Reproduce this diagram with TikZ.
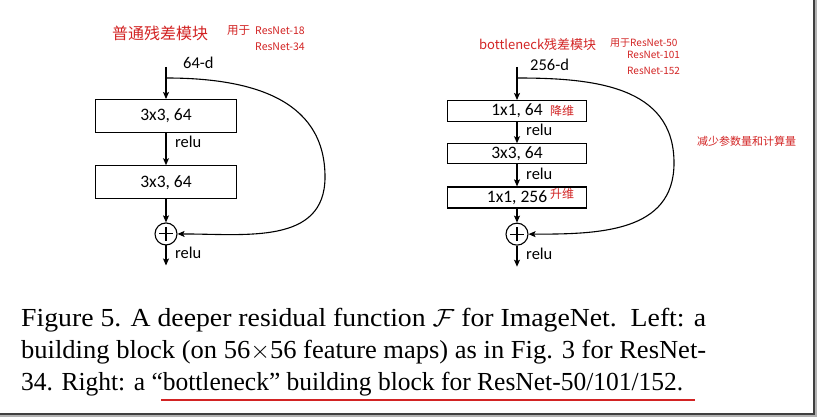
\documentclass[tikz,border=0pt]{standalone}
\usepackage{fontspec}
\usepackage{amsmath,amssymb}
\usepackage{xcolor}
\usepackage{graphicx}
\setmainfont{Liberation Serif}
\newfontfamily\cuerpo{Carlito}
\newfontfamily\mano{Noto Sans CJK SC}
\usetikzlibrary{arrows.meta,positioning,calc}
\definecolor{rojo}{RGB}{210,35,35}
\tikzset{
  bloque/.style={rectangle, draw=black, line width=1.2pt, fill=white,
                 minimum width=141pt, minimum height=33pt, inner sep=0pt,
                 align=center, font=\cuerpo\fontsize{17.5}{19}\selectfont},
  suma/.style={circle, draw=black, line width=1.1pt, minimum size=22pt,
               inner sep=0pt,
               path picture={\draw[line width=1.1pt]
                 ([yshift=-4pt]path picture bounding box.north) --
                 ([yshift=4pt]path picture bounding box.south)
                 ([xshift=4pt]path picture bounding box.west) --
                 ([xshift=-4pt]path picture bounding box.east);}},
  flecha/.style={-{Stealth[length=7pt, width=6pt, inset=1.5pt]}, line width=1.1pt},
  etiq/.style={anchor=west, inner sep=0pt, font=\cuerpo\fontsize{16.5}{18}\selectfont},
  nota/.style={anchor=west, inner sep=0pt, text=rojo},
  leyenda/.style={anchor=base west, inner sep=0pt,
                  font=\fontsize{26}{30}\selectfont}
}

\begin{document}
\begin{tikzpicture}[x=1pt, y=1pt]
  \useasboundingbox (0,0) rectangle (818,-419);
  % marco con sombra
  \draw[line width=2pt, black!30] (0,-416) -- (816,-416) -- (816,0);
  \draw[line width=1.6pt, black!75] (0,-414) -- (814,-414) -- (814,0);

  % bloque basico (izquierda)
  \coordinate (lin) at (166,-67);
  \coordinate[below=11pt of lin] (lskip);
  \node[bloque, below=32pt of lin] (l1) {3x3, 64};
  \node[bloque, below=32pt of l1] (l2) {3x3, 64};
  \node[suma, below=23pt of l2] (lsum) {};
  \coordinate[below=20pt of lsum] (lout);
  \coordinate (lturn) at (325,-177);
  \draw[line width=1.1pt] (lin) -- (lskip);
  \draw[flecha] (lskip) -- (l1);
  \draw[flecha] (l1) -- (l2);
  \draw[flecha] (l2) -- (lsum);
  \draw[flecha] (lsum) -- (lout);
  \draw[flecha] (lskip) to[out=0, in=90, looseness=1.1] (lturn)
                to[out=-90, in=0, looseness=1.1] (lsum);
  \node[etiq] (ld) at ($(lin)+(17,4)$) {64-d};
  \node[etiq] (lr1) at ($(l1.south)+(9,-9)$) {relu};
  \node[etiq] (lr2) at ($(lsum.south)+(9,-7)$) {relu};

  % bloque bottleneck (derecha)
  \coordinate (rin) at (517,-67);
  \coordinate[below=11pt of rin] (rskip);
  \node[bloque, minimum width=139pt, minimum height=21pt, below=33pt of rin] (r1) {1x1, 64};
  \node[bloque, minimum width=139pt, minimum height=20pt, below=21pt of r1] (r2) {3x3, 64};
  \node[bloque, minimum width=139pt, minimum height=21pt, below=22pt of r2] (r3) {1x1, 256};
  \node[suma, below=14pt of r3] (rsum) {};
  \coordinate[below=21pt of rsum] (rout);
  \coordinate (rturn) at (674,-163);
  \draw[line width=1.1pt] (rin) -- (rskip);
  \draw[flecha] (rskip) -- (r1);
  \draw[flecha] (r1) -- (r2);
  \draw[flecha] (r2) -- (r3);
  \draw[flecha] (r3) -- (rsum);
  \draw[flecha] (rsum) -- (rout);
  \draw[flecha] (rskip) to[out=0, in=90, looseness=1.1] (rturn)
                to[out=-90, in=0, looseness=1.1] (rsum);
  \node[etiq] (rd) at ($(rin)+(13,2)$) {256-d};
  \node[etiq] (rr1) at ($(r1.south)+(9,-8)$) {relu};
  \node[etiq] (rr2) at ($(r2.south)+(9,-9)$) {relu};
  \node[etiq] (rr3) at ($(rsum.south)+(9,-8)$) {relu};

  % notas a mano
  \node[nota, font=\mano\fontsize{16}{18}\selectfont] (n1) at (112,-33) {普通残差模块};
  \node[nota, font=\mano\fontsize{11.5}{13}\selectfont] (n2) at (227,-31) {用于};
  \node[nota, font=\mano\fontsize{10.5}{12}\selectfont] (n3) at (255,-31) {ResNet-18};
  \node[nota, font=\mano\fontsize{10.5}{12}\selectfont] (n4) at (255,-47) {ResNet-34};
  \node[nota, font=\mano\fontsize{13}{15}\selectfont] (n5) at (479,-45) {bottleneck残差模块};
  \node[nota, font=\mano\fontsize{10}{12}\selectfont] (n6) at (610,-43) {用于ResNet-50};
  \node[nota, font=\mano\fontsize{10}{12}\selectfont] (n7) at (627,-55) {ResNet-101};
  \node[nota, font=\mano\fontsize{10}{12}\selectfont] (n8) at (627,-71) {ResNet-152};
  \node[nota, font=\mano\fontsize{12}{14}\selectfont] (n9) at (550,-111) {降维};
  \node[nota, font=\mano\fontsize{12}{14}\selectfont] (n10) at (550,-194) {升维};
  \node[nota, font=\mano\fontsize{11}{13}\selectfont] (n11) at (697,-141) {减少参数量和计算量};

  % leyenda
  \node[leyenda] (c1) at (21,-326) {\resizebox{685pt}{\height}{Figure 5. A deeper residual function $\mathcal{F}$ for ImageNet.\ \ Left: a}};
  \node[leyenda] (c2) at (21,-358) {\resizebox{685pt}{\height}{building block (on 56$\times$56 feature maps) as in Fig. 3 for ResNet-}};
  \node[leyenda] (c3) at (21,-390) {\resizebox{662pt}{\height}{34. Right: a “bottleneck” building block for ResNet-50/101/152.}};
  \draw[rojo, line width=1.4pt] (161,-400) -- (695,-400);
\end{tikzpicture}
\end{document}
